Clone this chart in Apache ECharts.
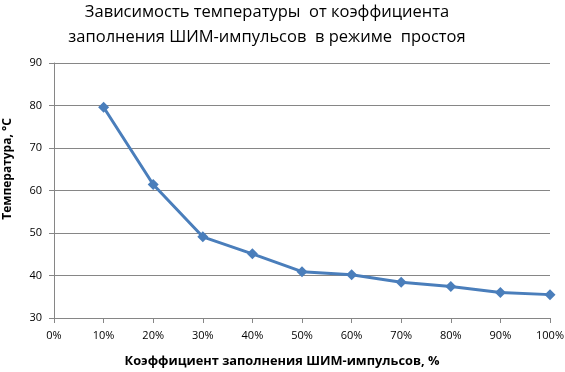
<!DOCTYPE html>
<html><head><meta charset="utf-8">
<script src="https://cdn.jsdelivr.net/npm/echarts@6/dist/echarts.min.js"></script>
<style>html,body{margin:0;padding:0;background:#fff}#c{width:565px;height:372px}</style>
</head><body><div id="c"></div>
<script>
const titleText = 'Зависимость температуры  от коэффициента\nзаполнения ШИМ-импульсов  в режиме  простоя';
const xName = 'Коэффициент заполнения ШИМ-импульсов, %';
const yName = 'Температура, °C';
const categories = ['0%','10%','20%','30%','40%','50%','60%','70%','80%','90%','100%'];
const temps = [null, 79.6, 61.4, 49.1, 45.1, 40.9, 40.2, 38.4, 37.4, 36.0, 35.5];
const yMin = 30, yMax = 90, yStep = 10;

const chart = echarts.init(document.getElementById('c'), null, {renderer:'canvas'});
chart.setOption({
  animation:false,
  backgroundColor:'#fff',
  title:{
    text:titleText, left:267, top:0, padding:0, textAlign:'center',
    textStyle:{fontFamily:'Open Sans', fontSize:16.5, fontWeight:'normal', color:'#000', lineHeight:25}
  },
  graphic:[
    {type:'text', x:282, y:361, style:{text:xName, align:'center', verticalAlign:'middle',
      font:'bold 12.8px "Open Sans"', fill:'#000'}},
    {type:'text', x:8, y:169, rotation:Math.PI/2, style:{text:yName, align:'center', verticalAlign:'middle',
      font:'bold 12px "Open Sans"', fill:'#000'}}
  ],
  grid:{left:54, right:15, top:63, bottom:54, containLabel:false, outerBoundsMode:'none'},
  xAxis:{
    type:'category', data:categories, boundaryGap:false,
    axisLine:{lineStyle:{color:'#868686', width:1}},
    axisTick:{alignWithLabel:true, length:5, lineStyle:{color:'#868686'}},
    axisLabel:{fontFamily:'Open Sans', fontSize:11, color:'#000', margin:12, interval:0},
    splitLine:{show:false}
  },
  yAxis:{
    type:'value', min:yMin, max:yMax, interval:yStep,
    axisLine:{show:true, lineStyle:{color:'#868686', width:1}},
    axisTick:{show:true, length:5, lineStyle:{color:'#868686'}},
    axisLabel:{fontFamily:'Open Sans', fontSize:11, color:'#000', margin:12},
    splitLine:{lineStyle:{color:'#868686', width:1}}
  },
  series:[{
    type:'line', data:temps, connectNulls:false,
    symbol:'diamond', symbolSize:11,
    lineStyle:{color:'#4A7EBB', width:3},
    itemStyle:{color:'#4A7EBB'}
  }]
});
</script></body></html>
